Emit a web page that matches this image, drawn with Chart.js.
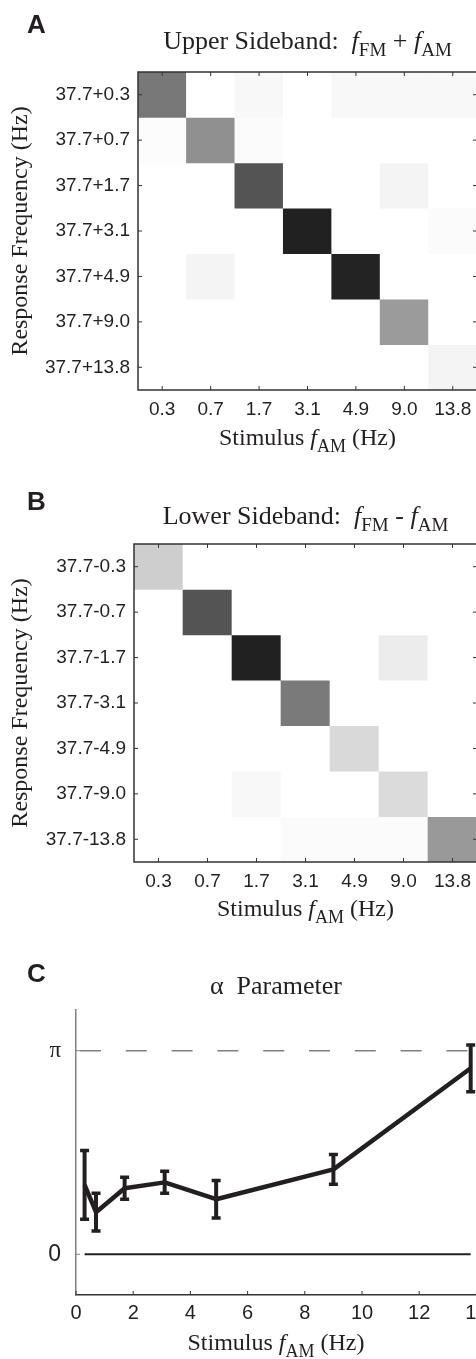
<!DOCTYPE html>
<html lang="en">
<head>
<meta charset="UTF-8">
<title>Sideband responses and alpha parameter</title>
<script src="https://cdn.jsdelivr.net/npm/chart.js@4.4.1/dist/chart.umd.min.js"></script>
<style>
  html, body { margin: 0; padding: 0; background: #fff; overflow: hidden; }
  body { width: 476px; height: 1359px; position: relative; color: #231f20; }
  .box { position: absolute; left: 0; }
  .letter { position: absolute; left: 27px; font: bold 26px/26px 'Liberation Sans', Arial, sans-serif; }
  .ttl { position: absolute; text-align: center; white-space: nowrap;
         font: 24px/24px 'Liberation Serif', 'Times New Roman', serif; }
  .ttl.big { font-size: 26px; line-height: 26px; }
  .ttl sub { font-size: 18px; line-height: 0; vertical-align: -7px; }
  .ttl.big sub { font-size: 19px; }
</style>
</head>
<body>
  <div class="box" style="top:0"><canvas id="upper" width="500" height="460"></canvas></div>
  <div class="box" style="top:460px"><canvas id="lower" width="500" height="490"></canvas></div>
  <div class="box" style="top:950px"><canvas id="alpha" width="500" height="409"></canvas></div>

  <div class="letter" style="top:11px">A</div>
  <div class="ttl big" style="top:28px; left:138px; width:339px">Upper Sideband:&nbsp; <i>f</i><sub>FM</sub> + <i>f</i><sub>AM</sub></div>
  <div class="ttl" style="top:425px; left:138px; width:339px">Stimulus <i>f</i><sub>AM</sub> (Hz)</div>

  <div class="letter" style="top:488px">B</div>
  <div class="ttl big" style="top:503px; left:134px; width:343px">Lower Sideband:&nbsp; <i>f</i><sub>FM</sub> - <i>f</i><sub>AM</sub></div>
  <div class="ttl" style="top:896px; left:134px; width:343px">Stimulus <i>f</i><sub>AM</sub> (Hz)</div>

  <div class="letter" style="top:960px">C</div>
  <div class="ttl big" style="top:973px; left:76px; width:400px">&alpha;&nbsp; Parameter</div>
  <div class="ttl" style="top:1330px; left:76px; width:400px">Stimulus <i>f</i><sub>AM</sub> (Hz)</div>

<script>
// stimulus AM frequencies (columns of A and B)
const stimLabels = ['0.3', '0.7', '1.7', '3.1', '4.9', '9.0', '13.8'];
const upperRowLabels = ['37.7+0.3', '37.7+0.7', '37.7+1.7', '37.7+3.1', '37.7+4.9', '37.7+9.0', '37.7+13.8'];
const lowerRowLabels = ['37.7-0.3', '37.7-0.7', '37.7-1.7', '37.7-3.1', '37.7-4.9', '37.7-9.0', '37.7-13.8'];

// normalised response, rows = response frequency (top to bottom), cols = stimulus
const upperVals = [
  [0.61, 0, 0.03, 0, 0.03, 0.03, 0.03],
  [0.015, 0.50, 0.02, 0, 0, 0, 0],
  [0, 0, 0.77, 0, 0, 0.05, 0],
  [0, 0, 0, 1.0, 0, 0, 0.02],
  [0, 0.05, 0, 0, 0.99, 0, 0],
  [0, 0, 0, 0, 0, 0.45, 0],
  [0, 0, 0, 0, 0, 0, 0.05]
];
const lowerVals = [
  [0.22, 0, 0, 0, 0, 0, 0],
  [0, 0.77, 0, 0, 0, 0, 0],
  [0, 0, 1.0, 0, 0, 0.085, 0],
  [0, 0, 0, 0.6, 0, 0, 0],
  [0, 0, 0, 0, 0.17, 0, 0],
  [0, 0, 0.03, 0, 0, 0.16, 0],
  [0, 0, 0, 0.02, 0.02, 0.02, 0.46]
];

// alpha parameter vs stimulus frequency
const alphaFreq = [0.3, 0.7, 1.7, 3.1, 4.9, 9.0, 13.8];
const alphaMean = [1.07, 0.65, 1.02, 1.11, 0.85, 1.31, 2.87];
const alphaErr  = [0.53, 0.29, 0.17, 0.17, 0.29, 0.23, 0.36];
const alphaXRange = [0, 14];
const alphaTickVals = [0, Math.PI];
const alphaTickLabels = ['0', '\u03c0'];

const INK = '#231f20';
const SANS = "'Liberation Sans', Arial, sans-serif";
const SERIF = "'Liberation Serif', 'Times New Roman', serif";
Chart.defaults.color = INK;

function shade(v) {
  const g = Math.round(255 - v * 222);
  return `rgb(${g},${g},${g})`;
}

// inward tick marks (and optional box) drawn on top of the data
const frame = {
  id: 'frame',
  afterDatasetsDraw(chart, args, o) {
    const { ctx, chartArea: a, scales: { x, y } } = chart;
    const len = 4;
    ctx.save();
    ctx.lineWidth = 1;
    ctx.strokeStyle = o.xColor;
    ctx.beginPath();
    x.ticks.forEach((t, i) => {
      const px = x.getPixelForTick(i);
      ctx.moveTo(px, a.bottom); ctx.lineTo(px, a.bottom - len);
      if (o.box) { ctx.moveTo(px, a.top); ctx.lineTo(px, a.top + len); }
    });
    ctx.stroke();
    ctx.strokeStyle = o.yColor;
    ctx.beginPath();
    y.ticks.forEach((t, i) => {
      const py = y.getPixelForTick(i);
      ctx.moveTo(a.left, py); ctx.lineTo(a.left + len, py);
      if (o.box) { ctx.moveTo(a.right, py); ctx.lineTo(a.right - len, py); }
    });
    ctx.stroke();
    if (o.box) {
      ctx.lineWidth = 1.5;
      ctx.strokeStyle = o.xColor;
      ctx.strokeRect(a.left, a.top, a.right - a.left, a.bottom - a.top);
    }
    ctx.restore();
  }
};

function heatmap(id, rowLabels, vals, lay) {
  new Chart(document.getElementById(id), {
    type: 'bar',
    data: {
      labels: stimLabels,
      datasets: vals.map((row, r) => ({
        data: row.map(() => [r - 0.5, r + 0.5]),
        backgroundColor: row.map(shade),
        borderWidth: 0,
        grouped: false,
        barPercentage: 1,
        categoryPercentage: 1
      }))
    },
    options: {
      responsive: false,
      animation: false,
      devicePixelRatio: 1,
      events: [],
      layout: { padding: { top: lay.top, right: 23, left: 0, bottom: 0 } },
      plugins: {
        legend: { display: false },
        tooltip: { enabled: false },
        frame: { box: true, xColor: '#333', yColor: '#333' }
      },
      scales: {
        x: {
          grid: { display: false, drawTicks: false },
          border: { display: false },
          ticks: { font: { family: SANS, size: 19 }, padding: 8, maxRotation: 0, autoSkip: false },
          afterFit: s => { s.height = lay.xh; }
        },
        y: {
          min: -0.5, max: 6.5, reverse: true,
          grid: { display: false, drawTicks: false },
          border: { display: false },
          afterBuildTicks: s => { s.ticks = rowLabels.map((_, i) => ({ value: i })); },
          ticks: { callback: v => rowLabels[v], font: { family: SANS, size: 19 }, padding: 8, autoSkip: false },
          title: {
            display: true, text: 'Response Frequency (Hz)',
            font: { family: SERIF, size: 24 }, padding: { top: 6, bottom: 0 }
          },
          afterFit: s => { s.width = lay.yw; }
        }
      }
    },
    plugins: [frame]
  });
}

heatmap('upper', upperRowLabels, upperVals, { top: 72, xh: 70, yw: 138 });
heatmap('lower', lowerRowLabels, lowerVals, { top: 84, xh: 88, yw: 134 });

// error bars for panel C
const errBars = {
  id: 'errBars',
  afterDatasetsDraw(chart) {
    const { ctx, scales: { x, y } } = chart;
    ctx.save();
    ctx.strokeStyle = INK;
    alphaFreq.forEach((f, i) => {
      const px = x.getPixelForValue(f);
      const top = y.getPixelForValue(alphaMean[i] + alphaErr[i]);
      const bot = y.getPixelForValue(alphaMean[i] - alphaErr[i]);
      ctx.lineWidth = 4;
      ctx.beginPath(); ctx.moveTo(px, top); ctx.lineTo(px, bot); ctx.stroke();
      ctx.lineWidth = 3.5;
      ctx.beginPath();
      ctx.moveTo(px - 4.5, top); ctx.lineTo(px + 4.5, top);
      ctx.moveTo(px - 4.5, bot); ctx.lineTo(px + 4.5, bot);
      ctx.stroke();
    });
    ctx.restore();
  }
};

new Chart(document.getElementById('alpha'), {
  type: 'line',
  data: {
    datasets: [
      {
        data: alphaXRange.map(v => ({ x: v, y: Math.PI })),
        borderColor: '#808080', borderWidth: 1.5,
        borderDash: [21, 24.8], borderDashOffset: 41.8, pointRadius: 0
      },
      {
        data: [alphaFreq[0], alphaFreq[alphaFreq.length - 1]].map(v => ({ x: v, y: 0 })),
        borderColor: INK, borderWidth: 2, pointRadius: 0
      },
      {
        data: alphaFreq.map((f, i) => ({ x: f, y: alphaMean[i] })),
        borderColor: INK, borderWidth: 4.5, pointRadius: 0, borderJoinStyle: 'round'
      }
    ]
  },
  options: {
    responsive: false,
    animation: false,
    devicePixelRatio: 1,
    events: [],
    layout: { padding: { top: 60, right: 23.6, left: 0, bottom: 0 } },
    plugins: {
      legend: { display: false },
      tooltip: { enabled: false },
      frame: { box: false, xColor: '#333', yColor: '#808080' }
    },
    scales: {
      x: {
        type: 'linear', min: alphaXRange[0], max: alphaXRange[1],
        grid: { display: false, drawTicks: false },
        border: { display: true, color: '#333', width: 1.5 },
        ticks: { stepSize: 2, font: { family: SANS, size: 20 }, padding: 6, maxRotation: 0 },
        afterFit: s => { s.height = 64; }
      },
      y: {
        min: -0.2 * Math.PI, max: 1.2 * Math.PI,
        grid: { display: false, drawTicks: false },
        border: { display: true, color: '#808080', width: 1.5 },
        afterBuildTicks: s => { s.ticks = alphaTickVals.map(v => ({ value: v })); },
        ticks: {
          callback: (v, i) => alphaTickLabels[i],
          font: c => (c.tick && c.tick.value > 1) ? { family: SERIF, size: 23 } : { family: SANS, size: 23 },
          padding: 15
        },
        afterFit: s => { s.width = 76; }
      }
    }
  },
  plugins: [frame, errBars]
});
</script>
</body>
</html>
